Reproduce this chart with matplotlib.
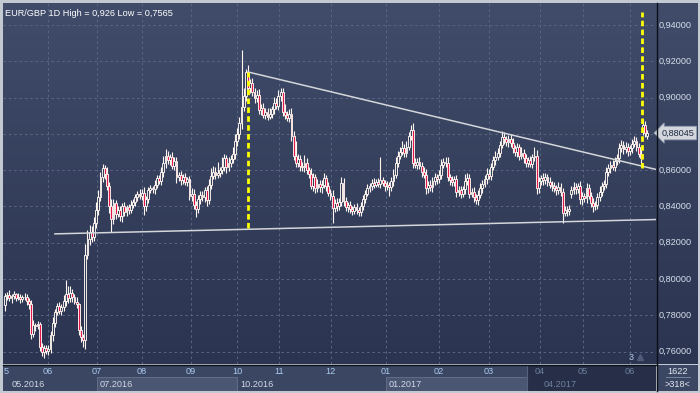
import matplotlib
matplotlib.use('Agg')
import matplotlib.pyplot as plt
import numpy as np
from matplotlib.colors import LinearSegmentedColormap
from matplotlib.lines import Line2D
from matplotlib.patches import Rectangle

# ---------------- data (EUR/GBP daily) ----------------
closes = [
    0.7905, 0.7912, 0.7895, 0.7908, 0.7915, 0.7898, 0.7903, 0.7890, 0.7900, 0.7902,
    0.7878, 0.7860, 0.7700, 0.7745, 0.7740, 0.7750, 0.7625, 0.7600, 0.7620, 0.7605,
    0.7615, 0.7690, 0.7760, 0.7820, 0.7850, 0.7825, 0.7845, 0.7880, 0.7915, 0.7895,
    0.7925, 0.7900, 0.7875, 0.7860, 0.7720, 0.7680, 0.7665, 0.8135, 0.8220, 0.8260,
    0.8230, 0.8310, 0.8380, 0.8450, 0.8560, 0.8610, 0.8580, 0.8510, 0.8400, 0.8330,
    0.8420, 0.8360, 0.8380, 0.8345, 0.8400, 0.8370, 0.8395, 0.8380, 0.8410, 0.8425,
    0.8450, 0.8470, 0.8455, 0.8475, 0.8400, 0.8440, 0.8490, 0.8500, 0.8495, 0.8520,
    0.8555, 0.8540, 0.8590, 0.8640, 0.8680, 0.8655, 0.8670, 0.8625, 0.8650, 0.8560,
    0.8575, 0.8545, 0.8560, 0.8535, 0.8550, 0.8460, 0.8470, 0.8410, 0.8385, 0.8440,
    0.8465, 0.8450, 0.8490, 0.8435, 0.8520, 0.8570, 0.8590, 0.8575, 0.8585, 0.8600,
    0.8620, 0.8665, 0.8615, 0.8640, 0.8660, 0.8690, 0.8760, 0.8800, 0.8860, 0.8950,
    0.9010, 0.9140, 0.9050, 0.9080, 0.9030, 0.9000, 0.9015, 0.8930, 0.8945, 0.8905,
    0.8920, 0.8895, 0.8910, 0.8935, 0.8970, 0.8955, 0.9010, 0.9030, 0.8920, 0.8905,
    0.8890, 0.8910, 0.8790, 0.8680, 0.8640, 0.8660, 0.8625, 0.8615, 0.8640, 0.8600,
    0.8580, 0.8515, 0.8560, 0.8500, 0.8525, 0.8505, 0.8520, 0.8555, 0.8510, 0.8475,
    0.8460, 0.8390, 0.8420, 0.8400, 0.8425, 0.8530, 0.8430, 0.8395, 0.8410, 0.8385,
    0.8375, 0.8395, 0.8380, 0.8370, 0.8405, 0.8440, 0.8470, 0.8500, 0.8515, 0.8530,
    0.8520, 0.8535, 0.8525, 0.8545, 0.8530, 0.8510, 0.8520, 0.8505, 0.8540, 0.8575,
    0.8640, 0.8680, 0.8700, 0.8720, 0.8695, 0.8730, 0.8790, 0.8820, 0.8640, 0.8630,
    0.8645, 0.8625, 0.8590, 0.8575, 0.8500, 0.8520, 0.8505, 0.8540, 0.8560, 0.8550,
    0.8575, 0.8630, 0.8645, 0.8640, 0.8560, 0.8545, 0.8535, 0.8550, 0.8480, 0.8490,
    0.8470, 0.8495, 0.8540, 0.8555, 0.8470, 0.8480, 0.8450, 0.8435, 0.8465, 0.8500,
    0.8525, 0.8550, 0.8580, 0.8570, 0.8620, 0.8655, 0.8675, 0.8695, 0.8740, 0.8785,
    0.8770, 0.8755, 0.8770, 0.8750, 0.8720, 0.8700, 0.8725, 0.8680, 0.8695, 0.8665,
    0.8640, 0.8655, 0.8635, 0.8670, 0.8680, 0.8500, 0.8540, 0.8555, 0.8545, 0.8560,
    0.8535, 0.8520, 0.8510, 0.8500, 0.8490, 0.8505, 0.8480, 0.8365, 0.8380, 0.8375,
    0.8385, 0.8490, 0.8505, 0.8495, 0.8510, 0.8440, 0.8455, 0.8445, 0.8500, 0.8460,
    0.8420, 0.8400, 0.8410, 0.8450, 0.8480, 0.8510, 0.8525, 0.8590, 0.8610, 0.8630,
    0.8620, 0.8650, 0.8665, 0.8720, 0.8740, 0.8715, 0.8725, 0.8705, 0.8720, 0.8745,
    0.8760, 0.8730, 0.8690, 0.8665, 0.8850, 0.8805, 0.88045,
]
# opens where the bar does not open at the previous close (gaps)
gap_opens = {0: 0.7855, 261: 0.8470, 294: 0.8815, 296: 0.8790}

# wick lengths above / below the body, in pips (0.0001)
wick_up = [
    20, 15, 25, 12, 18, 10, 22, 15, 12, 20, 15, 18, 25, 30, 15, 20, 12, 25, 18, 15,
    20, 25, 30, 15, 20, 25, 18, 30, 80, 45, 35, 20, 15, 25, 10, 20, 15, 60, 50, 40,
    35, 30, 45, 40, 30, 25, 20, 35, 25, 40, 20, 15, 25, 20, 18, 22, 15, 20, 25, 18,
    20, 15, 25, 20, 30, 18, 15, 20, 12, 25, 20, 18, 30, 40, 35, 25, 20, 30, 25, 20,
    15, 20, 18, 25, 15, 20, 30, 25, 20, 25, 18, 20, 15, 25, 30, 40, 35, 25, 60, 20,
    50, 25, 20, 30, 25, 35, 40, 30, 35, 310, 45, 20, 40, 25, 30, 20, 25, 30, 20, 25,
    20, 25, 30, 20, 35, 25, 30, 20, 25, 45, 20, 25, 30, 25, 80, 30, 25, 20, 45, 25,
    20, 30, 25, 20, 25, 20, 25, 30, 20, 25, 20, 30, 20, 25, 20, 30, 25, 20, 15, 20,
    15, 20, 25, 15, 20, 25, 20, 25, 15, 20, 25, 15, 20, 125, 20, 15, 20, 15, 25, 30,
    30, 25, 30, 40, 25, 30, 20, 30, 40, 25, 20, 25, 20, 25, 30, 20, 25, 20, 25, 20,
    25, 30, 20, 25, 30, 20, 25, 20, 25, 20, 25, 20, 40, 30, 25, 20, 25, 20, 25, 30,
    20, 25, 30, 25, 20, 25, 30, 25, 20, 30, 25, 20, 25, 30, 25, 20, 25, 20, 30, 20,
    25, 20, 25, 20, 50, 30, 25, 20, 30, 25, 20, 25, 20, 25, 20, 30, 25, 20, 25, 20,
    25, 20, 30, 25, 20, 30, 25, 20, 30, 25, 20, 25, 20, 25, 30, 25, 20, 30, 25, 20,
    25, 20, 25, 30, 25, 20, 30, 25, 20, 25, 30, 25, 20, 25, 30, 20, 15,
]
wick_dn = [
    30, 20, 15, 25, 18, 20, 15, 22, 18, 15, 20, 25, 30, 20, 25, 15, 20, 25, 35, 20,
    25, 20, 30, 25, 20, 15, 25, 20, 30, 25, 20, 25, 15, 20, 30, 25, 40, 50, 25, 30,
    25, 20, 30, 25, 20, 25, 30, 20, 35, 70, 25, 30, 20, 25, 30, 20, 25, 20, 15, 20,
    25, 20, 15, 20, 45, 25, 20, 15, 20, 25, 20, 15, 20, 25, 30, 20, 25, 20, 25, 30,
    20, 25, 20, 15, 20, 25, 30, 25, 45, 20, 25, 20, 25, 30, 20, 25, 20, 25, 20, 25,
    20, 25, 30, 20, 25, 20, 30, 25, 30, 35, 25, 30, 20, 25, 20, 30, 25, 20, 25, 20,
    25, 20, 15, 20, 25, 20, 25, 30, 20, 25, 20, 25, 30, 25, 20, 25, 30, 20, 25, 20,
    25, 20, 30, 25, 20, 25, 30, 20, 25, 20, 25, 80, 20, 25, 20, 25, 30, 20, 25, 20,
    20, 15, 20, 25, 20, 25, 20, 15, 20, 25, 20, 15, 20, 25, 20, 25, 20, 45, 20, 25,
    20, 25, 20, 15, 20, 25, 20, 25, 30, 20, 25, 20, 25, 20, 30, 25, 20, 25, 20, 25,
    20, 25, 20, 25, 20, 25, 20, 25, 30, 20, 25, 20, 25, 20, 25, 20, 25, 20, 25, 20,
    25, 20, 25, 20, 25, 20, 25, 20, 25, 20, 25, 20, 25, 20, 25, 20, 30, 25, 20, 25,
    20, 25, 20, 25, 20, 30, 25, 20, 25, 20, 25, 20, 25, 20, 25, 20, 25, 55, 20, 25,
    20, 25, 20, 25, 20, 25, 30, 20, 25, 20, 25, 30, 20, 25, 20, 25, 20, 25, 20, 25,
    20, 25, 20, 25, 20, 25, 20, 25, 20, 25, 20, 25, 20, 30, 20, 25, 20,
]

# drawn objects (bar index, price)
resistance_x = [112, 300]
resistance_y = [0.9141, 0.8604]
support_x = [23, 300]
support_y = [0.8249, 0.8328]
marker1_x = [112, 112]
marker1_y = [0.8280, 0.9141]
marker2_x = [293.5, 293.5]
marker2_y = [0.8610, 0.9470]

price_ticks = [0.76, 0.78, 0.80, 0.82, 0.84, 0.86, 0.88, 0.90, 0.92, 0.94]
last_price = 0.88045
month_labels = ['5', '06', '07', '08', '09', '10', '11', '12', '01', '02', '03', '04', '05', '06']
month_pos = [0.5, 19.8, 42.4, 63.1, 85.7, 106.9, 126.3, 150.2, 175.6, 200.0, 223.0, 246.5, 266.4, 288.0]
quarter_labels = ['05.2016', '07.2016', '10.2016', '01.2017', '04.2017']
quarter_pos = [3.2, 43.8, 108.3, 177.0, 248.0]
title = 'EUR/GBP 1D High = 0,926 Low = 0,7565'

assert len(closes) == len(wick_up) == len(wick_dn)

# ---------------- figure ----------------
W, H = 700, 393
FONT = 'Liberation Sans'
plt.rcParams['font.family'] = [FONT, 'DejaVu Sans']
fig = plt.figure(figsize=(W / 100, H / 100), dpi=100)
fig.patch.set_facecolor('#c3c9d1')


def px_axes(x0, y0, x1, y1, **kw):
    return fig.add_axes([x0 / W, 1 - y1 / H, (x1 - x0) / W, (y1 - y0) / H], **kw)


XL = (-0.92, 300.0)
YL = (0.7532, 0.9521)
bg = LinearSegmentedColormap.from_list('bg', ['#404c6a', '#2b3450'])
grad = np.linspace(0, 1, 256).reshape(-1, 1)

ax = px_axes(3, 3, 656, 364)
ax.set_xlim(*XL)
ax.set_ylim(*YL)
ax.imshow(grad, cmap=bg, extent=[XL[0], XL[1], YL[0], YL[1]], aspect='auto', zorder=0)
ax.set_axis_off()

# grid
for p in price_ticks:
    ax.axhline(p, color='#5a6784', lw=0.7, ls=(0, (2.5, 3)), zorder=1)
for m in month_pos[1:]:
    ax.axvline(m, color='#5a6784', lw=0.7, ls=(0, (2.5, 3)), zorder=1)

# candles
n = len(closes)
idx = np.arange(n)
c = np.array(closes)
o = np.array([gap_opens.get(i, closes[i - 1] if i > 0 else closes[0]) for i in range(n)])
top = np.maximum(o, c)
bot = np.minimum(o, c)
hi = top + np.array(wick_up) * 1e-4
lo = bot - np.array(wick_dn) * 1e-4
height = np.maximum(top - bot, 0.0003)
up = c >= o
ax.vlines(idx, top, hi, color='#fff6f0', lw=0.8, zorder=2)
ax.vlines(idx, lo, bot, color='#fff6f0', lw=0.8, zorder=2)
ax.bar(idx[up], height[up], bottom=bot[up], width=0.85, facecolor='#323d58',
       edgecolor='#fff6f0', linewidth=0.65, zorder=3)
ax.bar(idx[~up], height[~up], bottom=bot[~up], width=0.85, facecolor='#e3174a',
       edgecolor='#fff6f0', linewidth=0.65, zorder=3)

# trend lines and markers
ax.plot(resistance_x, resistance_y, color='#d4d6da', lw=1.1, zorder=4)
ax.plot(support_x, support_y, color='#d4d6da', lw=1.1, zorder=4)
for mx, my in ((marker1_x, marker1_y), (marker2_x, marker2_y)):
    ax.plot(mx, my, color='#ffff00', lw=2.0, ls=(0, (2, 1.2)), zorder=5, solid_capstyle='butt')

ax.text(2 / 653, 1 - 6 / 361, title, transform=ax.transAxes, color='#ffffff',
        fontsize=6.6, va='top', ha='left', zorder=6)
ax.text(288.5, 0.7570, '3', color='#b8cbe6', fontsize=6.6, ha='center', va='center', zorder=6)
ax.plot([292.5], [0.7568], marker='^', color='#4f5b79', ms=5, zorder=6)

# right price panel
axr = px_axes(656, 3, 698, 364)
axr.set_xlim(0, 1)
axr.set_ylim(*YL)
axr.imshow(grad, cmap=bg, extent=[0, 1, YL[0], YL[1]], aspect='auto', zorder=0)
axr.set_axis_off()
for p in price_ticks:
    if abs(p - last_price) < 0.005:
        continue  # hidden behind the last-price tag
    axr.text(0.07, p, f'{p:.5f}'.replace('.', ','), color='#d6deea', fontsize=6.6,
             ha='left', va='center', zorder=2)
axr.text(0.13, last_price, f'{last_price:.5f}'.replace('.', ','), color='#1d2940',
         fontsize=6.6, ha='left', va='center', zorder=3,
         bbox=dict(boxstyle='larrow,pad=0.25', fc='#d3d7dd', ec='#8e9aab', lw=0.6))

# bottom time panel
axb = px_axes(3, 365, 656, 391)
axb.set_xlim(*XL)
axb.set_ylim(0, 1)
axb.set_facecolor('#3b4662')
axb.set_xticks([])
axb.set_yticks([])
for s in axb.spines.values():
    s.set_visible(False)
axb.add_patch(Rectangle((quarter_pos[4] - 7.5, 0), XL[1] - quarter_pos[4] + 7.5, 1,
                        fc='#262f47', ec='none', zorder=1))
axb.axvline(quarter_pos[4] - 7.5, color='#56627e', lw=0.8, zorder=2)
for k in (1, 3):
    x0 = month_pos[2] if k == 1 else month_pos[8]
    x1 = month_pos[5] if k == 1 else quarter_pos[4] - 7.5
    axb.add_patch(Rectangle((x0, 0.0), x1 - x0, 0.55, fc='#4b5673', ec='#66718c',
                            lw=0.6, zorder=1))
for lab, pos in zip(month_labels, month_pos):
    col = '#6e7f9e' if pos > quarter_pos[4] - 7.5 else '#a9c9ee'
    axb.text(pos, 0.74, lab, color=col, fontsize=6.6, ha='center', va='center', zorder=3)
for lab, pos in zip(quarter_labels, quarter_pos):
    col = '#6e7f9e' if lab == '04.2017' else '#d0d9e6'
    axb.text(pos, 0.24, lab, color=col, fontsize=6.6, ha='left', va='center', zorder=3)

# bottom-right info panel
axi = px_axes(657, 365, 698, 391)
axi.set_xlim(0, 1)
axi.set_ylim(0, 1)
axi.set_facecolor('#3b4662')
axi.set_xticks([])
axi.set_yticks([])
for s in axi.spines.values():
    s.set_visible(False)
axi.text(0.5, 0.76, '1622', color='#e2e8f0', fontsize=6.6, ha='center', va='center')
axi.plot([0.22, 0.8], [0.55, 0.55], color='#8090a8', lw=0.6)
axi.text(0.5, 0.26, '>318<', color='#e2e8f0', fontsize=6.6, ha='center', va='center')

# black separators
fig.add_artist(Line2D([656.5 / W, 656.5 / W], [1 - 391 / H, 1 - 3 / H], color='#0b0f18',
                      lw=1.0, transform=fig.transFigure))
fig.add_artist(Line2D([3 / W, 656.5 / W], [1 - 364.5 / H, 1 - 364.5 / H], color='#0b0f18',
                      lw=1.0, transform=fig.transFigure))

fig.savefig('out.png', dpi=100, facecolor=fig.get_facecolor())
